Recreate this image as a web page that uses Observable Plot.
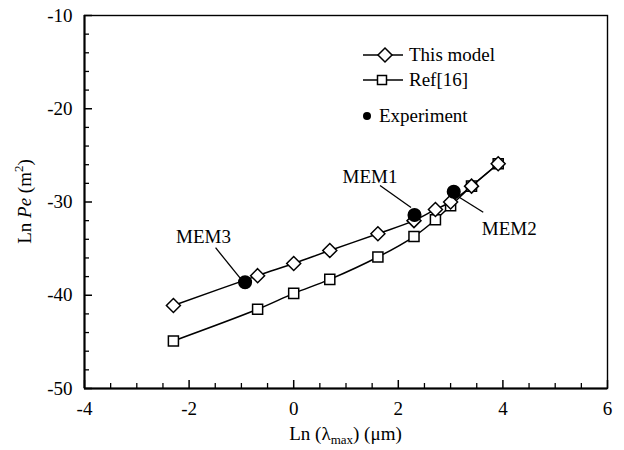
<!DOCTYPE html>
<html><head><meta charset="utf-8">
<script src="https://cdn.jsdelivr.net/npm/d3@7"></script>
<script src="https://cdn.jsdelivr.net/npm/@observablehq/plot@0.6"></script>
<style>body{margin:0;background:#fff}</style>
</head><body><div id="chart"></div>
<script>
// ---- data ----
const lnLambda  = [-2.30, -0.69, 0.00, 0.69, 1.61, 2.30, 2.71, 3.00, 3.40, 3.91];
const thisModel = [-41.1, -37.9, -36.6, -35.2, -33.4, -32.0, -30.8, -30.0, -28.3, -25.9];
const ref16     = [-44.9, -41.5, -39.8, -38.3, -35.9, -33.7, -31.9, -30.4, -28.3, -25.9];
const expNames  = ["MEM3", "MEM1", "MEM2"];
const expX      = [-0.93, 2.31, 3.06];
const expY      = [-38.6, -31.4, -28.9];
const xMajor = [-4, -2, 0, 2, 4, 6];
const xMinor = [-3.5, -3, -2.5, -1.5, -1, -0.5, 0.5, 1, 1.5, 2.5, 3, 3.5, 4.5, 5, 5.5];
const yMajor = [-50, -40, -30, -20, -10];
const yMinor = [-48, -46, -44, -42, -38, -36, -34, -32, -28, -26, -24, -22, -18, -16, -14, -12];
const seriesNames = ["This model", "Ref[16]", "Experiment"];

const modelRows = lnLambda.map((x, i) => ({x, y: thisModel[i]}));
const refRows   = lnLambda.map((x, i) => ({x, y: ref16[i]}));
const expRows   = expX.map((x, i) => ({x, y: expY[i], name: expNames[i]}));

// ---- styling ----
const serif = "'Liberation Serif', 'Times New Roman', serif";
const fs = 19;
const annot = {
  MEM1: {l1: [-34, -29], l2: [-3, -7], t: [-44, -32]},
  MEM2: {l1: [6, 6], l2: [30, 21], t: [56, 44]},
  MEM3: {l1: [-29, -34], l2: [-4, -3], t: [-41, -39]}
};
const legendRows = [
  {sym: "diamond", lx1: 363, lx2: 403, sx: 385, y: 55, tx: 409},
  {sym: "square",  lx1: 363, lx2: 403, sx: 382, y: 80, tx: 409},
  {sym: "dot",     sx: 367, y: 116, tx: 379}
];

function annotations(index, scales) {
  const g = d3.create("svg:g").attr("font-family", serif).attr("font-size", fs).attr("fill", "black");
  expNames.forEach((name, i) => {
    const px = scales.x(expX[i]), py = scales.y(expY[i]);
    const a = annot[name];
    g.append("line").attr("x1", px + a.l1[0]).attr("y1", py + a.l1[1])
      .attr("x2", px + a.l2[0]).attr("y2", py + a.l2[1])
      .attr("stroke", "black").attr("stroke-width", 1.3);
    g.append("text").attr("x", px + a.t[0]).attr("y", py + a.t[1])
      .attr("text-anchor", "middle").text(name);
  });
  return g.node();
}

function legend() {
  const g = d3.create("svg:g").attr("font-family", serif).attr("font-size", fs).attr("text-anchor", "start");
  legendRows.forEach((r, i) => {
    if (r.lx1 != null) g.append("line").attr("x1", r.lx1).attr("x2", r.lx2).attr("y1", r.y).attr("y2", r.y)
      .attr("stroke", "black").attr("stroke-width", 1.5);
    if (r.sym === "diamond") {
      g.append("path").attr("d", "M0,-7L7,0L0,7L-7,0Z").attr("transform", `translate(${r.sx},${r.y})`)
        .attr("fill", "white").attr("stroke", "black").attr("stroke-width", 1.5);
    } else if (r.sym === "square") {
      g.append("rect").attr("x", r.sx - 4.5).attr("y", r.y - 4.5).attr("width", 9).attr("height", 9)
        .attr("fill", "white").attr("stroke", "black").attr("stroke-width", 1.5);
    } else {
      g.append("circle").attr("cx", r.sx).attr("cy", r.y).attr("r", 4).attr("fill", "black");
    }
    g.append("text").attr("x", r.tx).attr("y", r.y).attr("dy", "0.32em").attr("text-anchor", "start").text(seriesNames[i]);
  });
  return g.node();
}

function axisTitles(index, scales, values, dims) {
  const g = d3.create("svg:g").attr("font-family", serif).attr("font-size", fs).attr("fill", "black");
  const cx = (dims.marginLeft + dims.width - dims.marginRight) / 2;
  const cy = (dims.marginTop + dims.height - dims.marginBottom) / 2;
  const xt = g.append("text").attr("x", cx).attr("y", 440).attr("text-anchor", "middle");
  xt.append("tspan").text("Ln (λ");
  xt.append("tspan").attr("font-size", 13).attr("dy", 4).text("max");
  xt.append("tspan").attr("dy", -4).text(") (μm)");
  const yt = g.append("text").attr("transform", `translate(31,${cy}) rotate(-90)`).attr("text-anchor", "middle");
  yt.append("tspan").text("Ln ");
  yt.append("tspan").attr("font-style", "italic").text("Pe");
  yt.append("tspan").text(" (m");
  yt.append("tspan").attr("font-size", 13).attr("dy", -8).text("2");
  yt.append("tspan").attr("dy", 8).text(")");
  return g.node();
}

const chart = Plot.plot({
  width: 624, height: 450,
  marginLeft: 84, marginRight: 17, marginTop: 15, marginBottom: 62,
  style: {fontFamily: serif, fontSize: fs + "px", color: "black", background: "white"},
  x: {domain: [-4, 6]},
  y: {domain: [-50, -10]},
  marks: [
    Plot.axisX({ticks: xMajor, tickSize: -8, tickPadding: 21, tickFormat: d => d, label: null, strokeWidth: 1.5}),
    Plot.axisX({ticks: xMinor, tickSize: -5, tickFormat: () => "", label: null, strokeWidth: 1.3}),
    Plot.axisY({ticks: yMajor, tickSize: -8, tickPadding: 20, tickFormat: d => d, label: null, strokeWidth: 1.5}),
    Plot.axisY({ticks: yMinor, tickSize: -5, tickFormat: () => "", label: null, strokeWidth: 1.3}),
    Plot.frame({stroke: "black", strokeWidth: 1.4}),
    Plot.ruleY([-50], {stroke: "black", strokeWidth: 2}),
    Plot.ruleX([-4], {stroke: "black", strokeWidth: 2}),
    Plot.line(refRows, {x: "x", y: "y", curve: "catmull-rom", stroke: "black", strokeWidth: 1.5}),
    Plot.dot(refRows, {x: "x", y: "y", symbol: "square2", r: 6.4, fill: "white", stroke: "black", strokeWidth: 1.5}),
    Plot.line(modelRows, {x: "x", y: "y", curve: "catmull-rom", stroke: "black", strokeWidth: 1.5}),
    Plot.dot(modelRows, {x: "x", y: "y", symbol: "diamond2", r: 6.3, fill: "white", stroke: "black", strokeWidth: 1.5}),
    annotations,
    Plot.dot(expRows, {x: "x", y: "y", r: 6.3, fill: "black", stroke: "black"}),
    legend,
    axisTitles
  ]
});
document.getElementById("chart").append(chart);
</script>
</body></html>
